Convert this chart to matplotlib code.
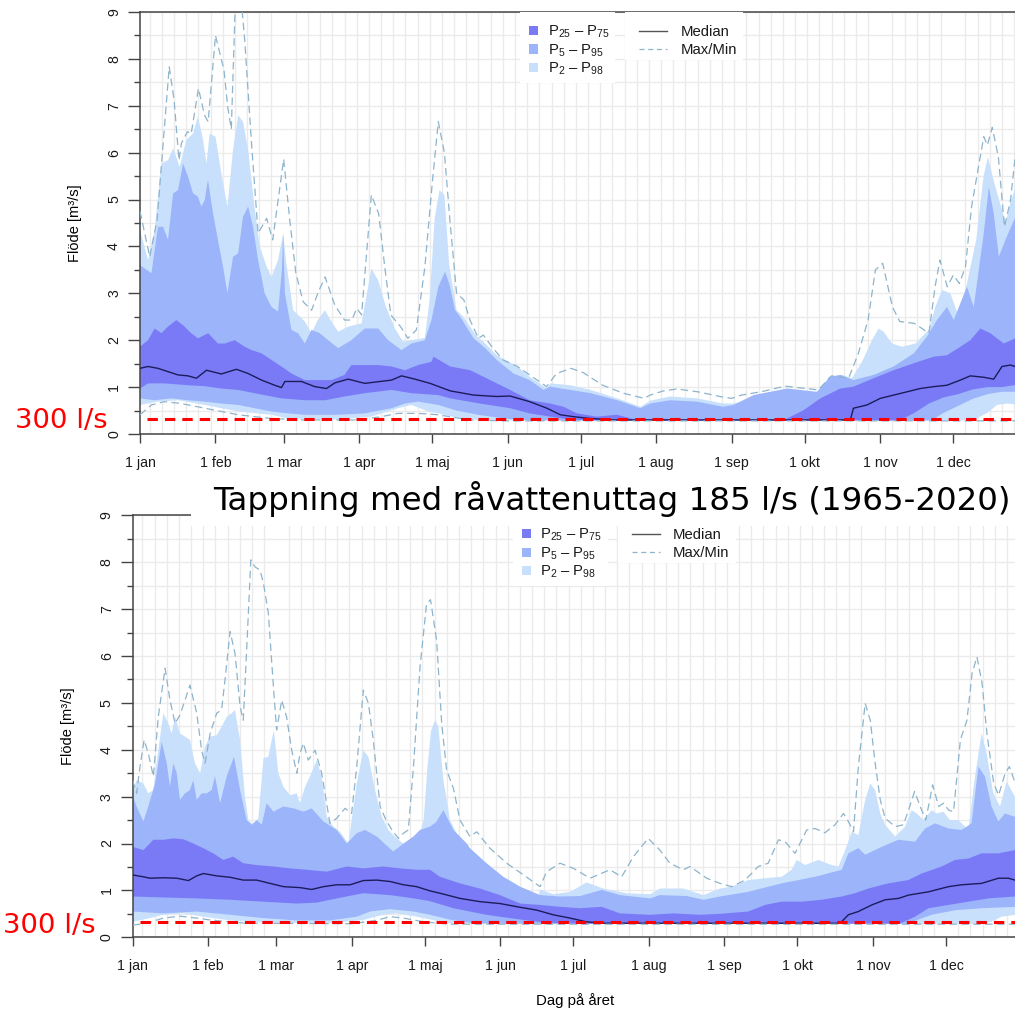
import numpy as np
import matplotlib.pyplot as plt
from matplotlib.patches import Rectangle

plt.rcParams['font.family'] = ['Liberation Sans', 'DejaVu Sans']
plt.rcParams['mathtext.fontset'] = 'custom'
plt.rcParams['mathtext.rm'] = 'Liberation Sans'
plt.rcParams['mathtext.it'] = 'Liberation Sans:italic'

### Text and axis data
month_days = [0, 31, 59, 90, 120, 151, 181, 212, 243, 273, 304, 334]
month_labels = ['1 jan', '1 feb', '1 mar', '1 apr', '1 maj', '1 jun',
                '1 jul', '1 aug', '1 sep', '1 okt', '1 nov', '1 dec']
band_labels = [r'P$\mathregular{_{25}}$ – P$\mathregular{_{75}}$',
               r'P$\mathregular{_{5}}$ – P$\mathregular{_{95}}$',
               r'P$\mathregular{_{2}}$ – P$\mathregular{_{98}}$']
line_labels = ['Median', 'Max/Min']
threshold = 0.33
threshold_start = 3
threshold_label = '300 l/s'
title = 'Tappning med råvattenuttag 185 l/s (1965-2020)'
ylabel = 'Flöde [m³/s]'
xlabel = 'Dag på året'

### Top panel (day, value)
top_max = [(0, 4.75), (4, 3.78), (7, 4.56), (12, 7.83), (14, 7.12), (16, 5.84), (17, 6.2),
           (19.5, 6.45), (21, 6.4), (24, 7.37), (26.5, 6.8), (28, 6.66), (31, 8.5),
           (34.5, 7.76), (36, 6.98), (37.5, 6.5), (39, 8.97), (41, 9.6), (43, 8.4),
           (46, 6.05), (48.5, 4.28), (52, 4.6), (54.5, 4.14), (59, 5.86), (61.5, 4.56),
           (64, 3.43), (67, 2.82), (70.5, 2.64), (73, 3.0), (76, 3.35), (80, 2.75),
           (84, 2.43), (87, 2.43), (89, 2.68), (91, 2.54), (95, 5.1), (98, 4.7),
           (100.5, 3.57), (103, 2.54), (107, 2.29), (110, 2.04), (113.5, 2.22),
           (117, 3.57), (120, 5.34), (122.5, 6.66), (125, 6.0), (127.5, 4.42),
           (130, 3.0), (133, 2.86), (135.5, 2.43), (139, 2.04), (141, 2.11),
           (144.5, 1.86), (149, 1.58), (155, 1.44), (160, 1.26), (167, 1.01),
           (171, 1.29), (177, 1.40), (182, 1.31), (190, 1.04), (198.5, 0.87),
           (207, 0.76), (209.5, 0.83), (215, 0.92), (220.5, 0.96), (229, 0.90),
           (240, 0.78), (243, 0.76), (247, 0.83), (255, 0.90), (265, 1.02),
           (278.5, 0.94), (284, 1.24), (291, 1.19), (295, 1.72), (299, 2.43),
           (302, 3.5), (305, 3.64), (309, 2.71), (312, 2.40), (318, 2.36),
           (324, 2.15), (326.5, 3.14), (328.5, 3.71), (331.5, 3.14), (334, 3.39),
           (336.5, 3.21), (339, 3.57), (341.5, 4.85), (346.5, 6.34), (348, 6.16),
           (350, 6.54), (352.5, 5.91), (355, 4.42), (357.5, 4.99), (360, 6.2), (362, 6.3)]
top_p98 = [(0, 4.35), (3.3, 3.71), (6, 4.35), (8.8, 5.77), (11.5, 5.84), (13.6, 6.09),
           (16.3, 5.7), (19, 6.27), (21.8, 6.41), (23.8, 6.77), (25.9, 6.27), (27.3, 5.77),
           (28.6, 6.41), (31, 6.34), (33.4, 5.56), (35.9, 4.85), (38.2, 6.06), (40.3, 6.8),
           (42.3, 6.66), (44.4, 6.06), (47, 4.85), (49.2, 4.0), (52, 3.57), (54, 3.35),
           (56.7, 3.71), (58.8, 4.28), (60.1, 3.64), (62.9, 2.64), (67.7, 2.40),
           (70.4, 2.15), (73, 2.43), (75.9, 2.64), (78.6, 2.40), (81.4, 2.18),
           (85.5, 2.29), (91, 2.36), (95, 3.53), (97.8, 3.28), (101, 2.71),
           (104.7, 2.25), (108, 1.97), (111.5, 2.0), (117, 2.05), (119, 2.9),
           (121, 4.6), (123, 5.2), (125, 5.1), (127, 3.6), (130, 2.64), (132.8, 2.5),
           (138.3, 2.08), (141, 1.97), (146.5, 1.68), (155, 1.44), (160, 1.22),
           (167.2, 0.97), (168.5, 1.08), (176.7, 1.04), (185, 0.94), (196, 0.76),
           (205.5, 0.58), (209.5, 0.71), (217.7, 0.80), (228.7, 0.76), (239.6, 0.65),
           (243.3, 0.65), (255, 0.76), (265, 0.90), (277.3, 0.87), (280, 0.97),
           (282.8, 1.22), (288.3, 1.26), (292.4, 1.19), (296.5, 1.54), (300.6, 2.0),
           (303.3, 2.25), (305.4, 2.18), (308.8, 1.93), (312.9, 1.86), (318.4, 1.93),
           (323.9, 2.22), (326.6, 2.71), (329.4, 3.07), (332.8, 3.0), (336.2, 2.5),
           (339.6, 3.21), (343.4, 4.14), (346.4, 5.49), (348.2, 5.91), (350.5, 5.42),
           (352.8, 4.99), (355.5, 4.5), (357.4, 4.92), (360, 5.35), (362, 5.4)]
top_p95 = [(0, 3.6), (4.7, 3.43), (7.4, 4.42), (9.5, 4.42), (11.5, 4.14), (13.6, 5.13),
           (15.6, 5.2), (17.7, 5.77), (19.7, 5.49), (21.8, 5.13), (23.8, 5.06),
           (25.2, 4.85), (26.6, 4.99), (27.9, 5.42), (30, 4.70), (32, 4.14), (34.1, 3.57),
           (35.9, 3.0), (38.2, 3.78), (40.3, 3.85), (42.3, 4.63), (44.4, 4.85),
           (46.4, 4.42), (48.5, 3.71), (51.2, 3.0), (54, 2.71), (56.7, 2.61), (58.3, 3.5),
           (58.8, 4.28), (59.5, 3.0), (62.2, 2.22), (64.9, 2.15), (67.7, 1.93),
           (70.4, 2.22), (73.8, 2.15), (77.3, 2.0), (81.4, 1.83), (86.8, 2.0),
           (92.3, 2.25), (97.8, 2.25), (101.9, 2.0), (107.4, 1.79), (111.5, 1.93),
           (117, 2.0), (119.7, 2.43), (122.5, 3.14), (125.3, 3.46), (127, 3.2),
           (129.4, 2.64), (131.5, 2.5), (137, 2.04), (141.8, 1.83), (146.5, 1.58),
           (153.4, 1.29), (160, 1.15), (165.7, 0.94), (168.4, 1.01), (176.7, 0.94),
           (185, 0.87), (196, 0.72), (205.5, 0.55), (209.5, 0.65), (217.7, 0.72),
           (228.7, 0.69), (239.6, 0.58), (243.8, 0.62), (252, 0.83), (265.7, 0.97),
           (278, 0.90), (283.5, 1.22), (287.6, 1.26), (293, 1.15), (301.3, 1.26),
           (309.5, 1.44), (317.8, 1.72), (323.2, 2.08), (327.3, 2.43), (331.4, 2.71),
           (334.2, 2.43), (336.9, 2.79), (339.6, 3.14), (342.4, 2.71), (346.5, 4.28),
           (348.6, 5.27), (350.6, 4.7), (352.7, 3.78), (355.4, 4.14), (359.5, 4.63),
           (362, 4.7)]
top_p75 = [(0, 1.86), (3.3, 2.0), (6, 2.25), (8.8, 2.15), (11.5, 2.29), (14.9, 2.43),
           (17.7, 2.32), (21, 2.15), (23.8, 2.04), (28, 2.15), (32, 1.93), (34.8, 1.93),
           (38.9, 2.0), (43, 1.86), (45.8, 1.79), (49.9, 1.72), (54, 1.58), (58.1, 1.44),
           (62.2, 1.29), (67.7, 1.15), (73, 1.15), (78.6, 1.15), (84, 1.26), (86.8, 1.47),
           (92.3, 1.47), (97.8, 1.47), (103.3, 1.44), (108.8, 1.36), (114.2, 1.47),
           (119.7, 1.54), (120.5, 1.65), (127.4, 1.44), (135.6, 1.36), (143.8, 1.15),
           (152, 0.94), (160, 0.72), (168.5, 0.65), (174, 0.58), (179.4, 0.44),
           (187.6, 0.37), (195.8, 0.41), (204, 0.30), (212.3, 0.33), (221.9, 0.31),
           (239.6, 0.30), (258, 0.30), (265.7, 0.33), (272.6, 0.51), (279.4, 0.76),
           (287.6, 0.97), (293, 1.01), (301.3, 1.19), (309.5, 1.36), (317.8, 1.51),
           (326, 1.65), (331.4, 1.68), (336.9, 1.86), (341, 2.0), (345.1, 2.25),
           (349.2, 2.15), (354.7, 1.93), (359.5, 2.04), (362, 2.05)]
top_median = [(0, 1.40), (3.3, 1.44), (7.4, 1.40), (11.5, 1.33), (15.6, 1.26), (19.7, 1.24),
              (23.2, 1.19), (27.3, 1.36), (33.4, 1.28), (39.6, 1.38), (44.4, 1.29),
              (49.9, 1.15), (55.3, 1.04), (58.1, 0.99), (59.5, 1.12), (66.3, 1.12),
              (71.8, 1.01), (76.6, 0.97), (80, 1.09), (85.5, 1.17), (92.3, 1.08),
              (103.3, 1.15), (107.4, 1.24), (112.9, 1.17), (119.1, 1.08), (127.4, 0.92),
              (137, 0.83), (146.5, 0.80), (152, 0.81), (160, 0.69), (167.1, 0.55),
              (172.6, 0.41), (178, 0.37), (185, 0.33), (195, 0.30), (291.7, 0.30),
              (293, 0.55), (298.6, 0.62), (304, 0.76), (309.5, 0.83), (315, 0.90),
              (320.4, 0.97), (325.9, 1.01), (331.4, 1.04), (336.9, 1.15), (341, 1.24),
              (346.5, 1.21), (350.6, 1.17), (354, 1.44), (357.4, 1.47), (359.5, 1.44),
              (362, 1.44)]
top_p25 = [(0, 0.97), (3.3, 1.08), (10, 1.08), (19.7, 1.04), (26.6, 1.02), (33.4, 0.97),
           (40.3, 0.94), (47.1, 0.87), (54, 0.80), (58.1, 0.76), (67.7, 0.72), (75.9, 0.72),
           (84, 0.80), (92.3, 0.87), (103.3, 0.94), (111.5, 0.87), (122.5, 0.83),
           (127.4, 0.76), (139.6, 0.65), (152, 0.55), (160, 0.44), (168.5, 0.37),
           (176.7, 0.31), (185, 0.29), (312, 0.29), (318, 0.45), (324, 0.65), (330, 0.78),
           (336, 0.85), (342, 0.95), (348, 1.0), (354, 1.0), (360, 1.05), (362, 1.05)]
top_p5 = [(0, 0.76), (6, 0.72), (12.9, 0.76), (19.7, 0.72), (26.6, 0.69), (33.4, 0.65),
          (40.3, 0.62), (47.1, 0.55), (54, 0.48), (60.8, 0.44), (67.7, 0.41), (81.4, 0.41),
          (92.3, 0.44), (103.3, 0.55), (108.8, 0.65), (114.2, 0.69), (122.5, 0.62),
          (130, 0.50), (140, 0.40), (150, 0.33), (160, 0.29), (325, 0.29), (330, 0.45),
          (336, 0.60), (342, 0.75), (348, 0.85), (354, 0.90), (362, 0.90)]
top_p2 = [(0, 0.62), (7.4, 0.69), (15.6, 0.72), (26.6, 0.62), (40.3, 0.48), (54, 0.41),
          (60.8, 0.33), (81.4, 0.31), (95, 0.37), (106, 0.55), (111.5, 0.62),
          (118.4, 0.48), (122.5, 0.44), (130, 0.35), (140, 0.29), (342, 0.29),
          (348, 0.45), (352, 0.62), (356, 0.65), (362, 0.62)]
top_min = [(0, 0.41), (4.7, 0.62), (10, 0.69), (17, 0.65), (26.6, 0.55), (40.3, 0.41),
           (54, 0.33), (67.7, 0.30), (88, 0.30), (98, 0.36), (106, 0.44), (114.2, 0.44),
           (122.5, 0.41), (135, 0.30), (150, 0.28), (362, 0.28)]

### Bottom panel (day, value)
bot_max = [(0, 3.35), (1.6, 3.07), (3, 3.64), (4.7, 4.21), (6.4, 3.92), (8.5, 3.43),
           (10.5, 4.7), (13.3, 5.74), (15.3, 5.06), (17.4, 4.56), (19.4, 4.74),
           (21.5, 5.06), (23.5, 5.38), (26.3, 4.78), (28.3, 3.99), (29.7, 3.71),
           (31.8, 4.35), (34.5, 4.78), (36.5, 4.85), (37.9, 5.49), (40, 6.52), (42, 6.06),
           (44.1, 4.92), (45.4, 4.63), (46.8, 6.13), (48.5, 8.05), (50.2, 7.9),
           (52.3, 7.83), (53.7, 7.55), (55.7, 6.91), (57.8, 5.34), (59.1, 4.42),
           (61.2, 5.06), (63.2, 4.7), (65.3, 3.99), (67.4, 3.5), (68.7, 3.92), (70.1, 4.14),
           (72.1, 3.78), (74.9, 3.99), (77.6, 3.5), (81, 2.43), (83.8, 2.54), (87.2, 2.75),
           (89.9, 2.64), (92, 3.64), (94.7, 5.27), (96.8, 4.99), (98.8, 4.21),
           (101.6, 2.79), (104.3, 2.47), (107, 2.25), (109.1, 2.11), (111.2, 2.22),
           (113.2, 2.29), (115.3, 3.64), (118, 5.77), (120.7, 7.12), (122.3, 7.2),
           (124.8, 6.34), (126.9, 4.56), (128.9, 3.57), (131.7, 3.18), (134.4, 2.50),
           (138.5, 2.15), (141.3, 2.25), (146.7, 1.90), (153.6, 1.58), (160.5, 1.33),
           (167.3, 1.08), (170, 1.40), (175.5, 1.58), (181, 1.47), (187.8, 1.26),
           (196, 1.44), (200.8, 1.29), (205.6, 1.72), (211.7, 2.11), (216.5, 1.86),
           (220.6, 1.58), (226.1, 1.44), (228.9, 1.51), (235.7, 1.26), (241.2, 1.15),
           (246, 1.08), (251.5, 1.22), (256.9, 1.51), (261, 1.58), (265.2, 2.08),
           (267.9, 2.04), (272, 1.79), (276.8, 2.29), (280.2, 2.32), (284.3, 2.23),
           (288.4, 2.40), (291.9, 2.64), (293.9, 2.47), (296, 2.25), (298, 3.64),
           (300.8, 4.99), (302.9, 4.63), (304.9, 3.71), (307, 2.93), (309, 2.54),
           (313.1, 2.36), (316.5, 2.40), (318.6, 2.71), (321.1, 3.11), (323.4, 2.79),
           (325.7, 2.50), (328.5, 3.25), (331, 2.79), (333, 2.86), (335.1, 2.71),
           (337.1, 2.68), (339.9, 4.21), (342.6, 4.63), (344.7, 5.63), (346.7, 5.98),
           (348.8, 5.42), (350.8, 4.35), (353.6, 3.28), (355.6, 3.03), (358.3, 3.50),
           (360, 3.64), (362.5, 3.28)]
bot_p98 = [(0, 3.07), (1.6, 3.35), (4.4, 3.28), (6.4, 3.07), (8.5, 3.14), (10.5, 3.99),
           (12.6, 4.78), (14.6, 4.56), (16, 4.35), (17.4, 4.70), (19.4, 4.35), (21.5, 4.28),
           (23.5, 4.21), (25.6, 3.71), (27.7, 3.50), (29.7, 4.07), (31.8, 4.28),
           (34.5, 4.31), (36.5, 4.49), (38.6, 4.70), (40.7, 4.78), (42, 4.85), (44.1, 4.21),
           (46.1, 3.0), (47.5, 2.50), (49.6, 2.40), (51.6, 2.54), (53.7, 3.82),
           (55.7, 3.85), (57.1, 4.21), (58, 4.42), (59.8, 3.5), (61.9, 3.21), (64.6, 3.03),
           (67.4, 3.07), (68.7, 2.86), (70.8, 3.21), (72.8, 3.43), (75.6, 3.78),
           (77.6, 3.43), (79.7, 2.57), (82.4, 2.36), (85.1, 2.25), (88.6, 2.0), (92, 3.28),
           (94.7, 3.99), (96.8, 3.85), (99.5, 3.14), (102.3, 2.57), (105, 2.29),
           (108.4, 2.11), (111.8, 1.97), (115.3, 2.15), (118, 2.22), (119.5, 2.5),
           (121, 3.6), (122.5, 4.4), (124.2, 4.63), (125.5, 4.5), (127.6, 3.35),
           (130.3, 2.50), (133, 2.22), (138.5, 1.86), (145.3, 1.51), (152.2, 1.26),
           (159.1, 1.04), (166.6, 0.87), (167.3, 1.02), (172.7, 0.92), (179.6, 0.97),
           (186.4, 1.17), (193.3, 1.04), (202.9, 0.94), (212.5, 0.92), (216.6, 1.04),
           (226.2, 1.04), (234.4, 0.90), (241.2, 1.04), (246, 1.08), (252.8, 1.22),
           (259.7, 1.26), (266.5, 1.29), (270.6, 1.44), (272.7, 1.65), (276.1, 1.54),
           (281.6, 1.65), (287.1, 1.54), (289.8, 1.51), (292.6, 1.86), (295.3, 2.25),
           (298, 2.18), (300.8, 2.93), (302.9, 3.28), (304.9, 3.14), (307, 2.64),
           (309, 2.40), (313.1, 2.15), (317.2, 2.36), (319.9, 2.71), (322, 2.64),
           (324.7, 2.50), (328.1, 2.71), (330.2, 2.64), (332.9, 2.68), (335.6, 2.50),
           (339.1, 2.50), (343.2, 2.29), (345.9, 3.43), (348.6, 4.35), (350.7, 3.92),
           (353.4, 3.07), (356.2, 2.79), (358.9, 3.32), (362.3, 3.0)]
bot_p95 = [(0, 3.0), (1.6, 2.79), (4.4, 2.47), (6.4, 2.79), (9.2, 3.28), (11.9, 4.17),
           (14, 3.71), (15.3, 3.21), (16.7, 3.71), (18.1, 3.50), (19.4, 2.93), (21.5, 3.07),
           (23.5, 3.14), (24.9, 3.35), (26.3, 2.93), (28.3, 3.07), (30.4, 3.07),
           (32.4, 3.14), (33.8, 3.43), (35.9, 2.86), (38.6, 3.43), (41.6, 3.85),
           (44.1, 3.14), (46.8, 2.50), (48.9, 2.40), (50.9, 2.50), (53, 2.40), (55, 2.86),
           (57.8, 2.68), (61.9, 2.79), (66, 2.75), (70.1, 2.68), (73.5, 2.75), (78.3, 2.47),
           (83.8, 2.29), (87.9, 2.0), (92, 2.22), (95.4, 2.29), (100.2, 2.15), (107, 1.83),
           (111.2, 2.0), (115.3, 2.15), (118, 2.29), (122.1, 2.36), (124.5, 2.45),
           (127.6, 2.71), (131.7, 2.29), (137.2, 2.0), (138.5, 1.90), (145.3, 1.58),
           (152.2, 1.29), (159.1, 1.08), (167.3, 0.90), (175.5, 0.87), (183.7, 0.88),
           (192.6, 1.01), (200.1, 0.90), (212.5, 0.83), (216.6, 0.90), (227.5, 0.88),
           (234.4, 0.80), (241.2, 0.87), (252.8, 0.97), (266.5, 1.15), (280.2, 1.29),
           (291.2, 1.44), (293.9, 1.79), (298, 1.90), (300.8, 1.76), (307.6, 1.93),
           (314.5, 2.08), (321.3, 2.04), (325.4, 2.32), (329.5, 2.43), (335, 2.32),
           (340.4, 2.29), (344.5, 2.43), (347.3, 3.64), (350, 3.43), (352.7, 2.79),
           (355.5, 2.47), (358.2, 2.64), (362.3, 2.57)]
bot_p75 = [(0, 1.93), (4.4, 1.86), (8.5, 2.08), (12.6, 2.08), (16.7, 2.11), (20.8, 2.09),
           (24.9, 2.0), (29, 1.90), (33.1, 1.79), (37.2, 1.65), (41.3, 1.72), (45.4, 1.58),
           (50.9, 1.54), (57.8, 1.51), (64.6, 1.47), (71.5, 1.44), (79.7, 1.40),
           (87.9, 1.51), (94.7, 1.47), (102.9, 1.51), (109.8, 1.47), (116.6, 1.44),
           (122.1, 1.44), (126.2, 1.29), (134.4, 1.15), (142.6, 1.04), (150.8, 0.90),
           (159.1, 0.72), (167.3, 0.69), (175.5, 0.65), (183.7, 0.62), (192.6, 0.65),
           (200.1, 0.51), (212.5, 0.48), (222, 0.51), (233, 0.48), (241.2, 0.50),
           (252.8, 0.55), (259.7, 0.69), (266.5, 0.76), (274.7, 0.76), (282.9, 0.80),
           (291.2, 0.87), (296.6, 0.94), (302.1, 1.04), (310.3, 1.15), (318.5, 1.22),
           (324, 1.36), (332.2, 1.51), (337.7, 1.65), (343.2, 1.68), (348.6, 1.79),
           (355.5, 1.79), (362.3, 1.86)]
bot_median = [(0, 1.33), (4.4, 1.29), (7.1, 1.26), (12.6, 1.27), (18.1, 1.26), (22.9, 1.21),
              (26.3, 1.31), (29, 1.36), (34.5, 1.31), (40, 1.28), (45.4, 1.22), (50.9, 1.22),
              (56.4, 1.15), (61.9, 1.08), (68.7, 1.06), (73.5, 1.02), (78.3, 1.08),
              (83.8, 1.12), (89.3, 1.12), (94.7, 1.21), (100.2, 1.22), (105.7, 1.19),
              (111.2, 1.12), (116.6, 1.08), (122.1, 0.99), (126.2, 0.94), (134.4, 0.83),
              (142.6, 0.76), (150.8, 0.72), (159.1, 0.64), (165.9, 0.58), (172.7, 0.48),
              (179.6, 0.41), (186.4, 0.33), (193, 0.30), (290.5, 0.30), (293.9, 0.48),
              (298, 0.55), (303.5, 0.69), (309, 0.80), (314.5, 0.83), (318.6, 0.90),
              (326.8, 0.97), (335, 1.08), (340.4, 1.12), (348.6, 1.15), (355.5, 1.26),
              (359.6, 1.26), (362.3, 1.22)]
bot_p25 = [(0, 0.87), (12.6, 0.85), (26.3, 0.83), (40, 0.80), (53.7, 0.76), (67.4, 0.72),
           (75.6, 0.74), (83.8, 0.83), (94.7, 0.94), (105.7, 0.90), (115.3, 0.83),
           (122.1, 0.77), (131.7, 0.62), (145.3, 0.48), (159.1, 0.38), (170, 0.31),
           (180, 0.29), (315, 0.29), (321.3, 0.44), (326.8, 0.62), (335, 0.69),
           (343.2, 0.76), (351.4, 0.83), (362.3, 0.87)]
bot_p5 = [(0, 0.55), (12.6, 0.51), (26.3, 0.55), (40, 0.48), (53.7, 0.41), (67.4, 0.36),
          (81, 0.36), (92, 0.44), (97.5, 0.55), (105.7, 0.60), (115.3, 0.55), (122.1, 0.48),
          (130, 0.38), (140, 0.30), (150, 0.29), (318, 0.29), (328, 0.48), (338, 0.58),
          (348.6, 0.62), (362.3, 0.65)]
bot_p2 = [(0, 0.33), (7.1, 0.41), (12.6, 0.48), (20.8, 0.51), (29, 0.44), (40, 0.36),
          (53.7, 0.31), (81, 0.30), (94.7, 0.37), (102.9, 0.48), (108.4, 0.51),
          (116.6, 0.44), (122.1, 0.38), (130, 0.30), (140, 0.29), (350, 0.29),
          (352.7, 0.33), (356.8, 0.44), (362.3, 0.48)]
bot_min = [(0, 0.26), (5.7, 0.30), (12.6, 0.41), (19.4, 0.45), (26.3, 0.41), (33.1, 0.36),
           (46.8, 0.30), (90, 0.29), (100, 0.36), (105.7, 0.44), (111.2, 0.41),
           (119.4, 0.33), (130, 0.28), (362.3, 0.28)]

c_dark = '#7a7af7'
c_mid = '#9bb4fa'
c_light = '#c8e0fc'
c_median = '#1c1c5a'
c_maxmin = '#8db4cc'
c_axis = '#444444'

W_PX, H_PX = 888.8, 422.0   # axes size in pixels


def draw_panel(ax, series):
    mx, p98, p95, p75, med, p25, p5, p2, mn = [np.array(s).T for s in series]

    def band(hi, lo, col):
        ax.fill(np.r_[hi[0], lo[0][::-1]], np.r_[hi[1], lo[1][::-1]],
                color=col, lw=0, zorder=1)

    band(p98, p2, c_light)
    band(p95, p5, c_mid)
    band(p75, p25, c_dark)
    ax.plot(med[0], med[1], color=c_median, lw=1.0, zorder=3)
    for s in (mx, mn):
        ax.plot(s[0], s[1], color=c_maxmin, lw=0.9, ls=(0, (6, 3.5)), zorder=3)
    ax.axhline(threshold, xmin=threshold_start / 365, color='red', lw=2.2,
               ls=(0, (3.4, 2.3)), zorder=4)

    ax.set_xlim(0, 365)
    ax.set_ylim(0, 9)
    ax.set_xticks(month_days)
    ax.set_xticklabels(month_labels)
    ax.set_xticks(np.arange(4, 365, 5), minor=True)
    ax.set_yticks(range(0, 10))
    ax.set_yticks(np.arange(0.5, 9, 1), minor=True)
    ax.set_axisbelow(True)
    ax.grid(which='minor', axis='x', color='#ebebeb', lw=1.0)
    ax.grid(which='both', axis='y', color='#ebebeb', lw=1.0)
    ax.tick_params(axis='x', which='major', length=6.7, width=1, color=c_axis,
                   labelsize=10.2, pad=8.8, labelcolor='#1a1a1a')
    ax.tick_params(axis='x', which='minor', length=0)
    ax.tick_params(axis='y', which='major', length=8.6, width=1, color=c_axis,
                   labelsize=10.2, pad=5, labelcolor='#1a1a1a')
    ax.tick_params(axis='y', which='minor', length=4.3, width=1, color=c_axis)
    for lab in ax.get_yticklabels():
        lab.set_rotation(90)
        lab.set_va('center')
    for sp in ax.spines.values():
        sp.set_color(c_axis)
        sp.set_linewidth(1.1)
    ax.text(-65 / W_PX, 0.5, ylabel, transform=ax.transAxes, rotation=90,
            ha='center', va='center', fontsize=10.5)
    draw_legend(ax)


def draw_legend(ax):
    tr = ax.transAxes

    def pos(dx, dy):
        return dx / W_PX, 1 - dy / H_PX

    ax.add_patch(Rectangle(pos(380, 71), 95 / W_PX, 71 / H_PX, transform=tr,
                           fc='white', ec='none', zorder=5))
    ax.add_patch(Rectangle(pos(485, 48), 118 / W_PX, 48 / H_PX, transform=tr,
                           fc='white', ec='none', zorder=5))
    for dy, col, lab in zip([18.5, 37, 55.5], [c_dark, c_mid, c_light], band_labels):
        ax.add_patch(Rectangle(pos(389, dy + 4.5), 9 / W_PX, 9 / H_PX, transform=tr,
                               fc=col, ec='none', zorder=6))
        ax.text(*pos(407.5, dy + 5.2), lab, transform=tr, ha='left', va='baseline',
                fontsize=10.7, color='#1a1a1a', zorder=6)
    styles = [dict(color='#555555', lw=1.0, ls='-'),
              dict(color=c_maxmin, lw=0.9, ls=(0, (4, 3)))]
    for dy, st, lab in zip([18.7, 36.5], styles, line_labels):
        (x0, y0), (x1, _) = pos(499, dy), pos(527, dy)
        ax.plot([x0, x1], [y0, y0], transform=tr, zorder=6, clip_on=False, **st)
        ax.text(*pos(540.5, dy + 5.2), lab, transform=tr, ha='left', va='baseline',
                fontsize=10.7, color='#1a1a1a', zorder=6)


fig = plt.figure(figsize=(10.15, 10.10), dpi=100)
ax_top = fig.add_axes([140 / 1015, (1010 - 434) / 1010, W_PX / 1015, H_PX / 1010])
ax_bot = fig.add_axes([132.7 / 1015, (1010 - 937.3) / 1010, W_PX / 1015, H_PX / 1010])

draw_panel(ax_top, [top_max, top_p98, top_p95, top_p75, top_median,
                    top_p25, top_p5, top_p2, top_min])
draw_panel(ax_bot, [bot_max, bot_p98, bot_p95, bot_p75, bot_median,
                    bot_p25, bot_p5, bot_p2, bot_min])

fig.text(575 / 1015, 1 - 1001 / 1010, xlabel, ha='center', va='center', fontsize=10.8)

# white box with the title over the top of the lower panel
fig.add_artist(Rectangle((191 / 1015, 1 - 526 / 1010), 1 - 191 / 1015, 47 / 1010,
                         transform=fig.transFigure, fc='white', ec='none', zorder=5))
fig.text(213 / 1015, 1 - 509.7 / 1010, title, ha='left', va='baseline',
         fontsize=23.4, family='DejaVu Sans', color='black', zorder=6)

fig.text(15 / 1015, 1 - 428.3 / 1010, threshold_label, ha='left', va='baseline',
         fontsize=19.7, family='DejaVu Sans', color='red', zorder=6)
fig.text(3.4 / 1015, 1 - 932.7 / 1010, threshold_label, ha='left', va='baseline',
         fontsize=19.7, family='DejaVu Sans', color='red', zorder=6)

fig.savefig('out.png', dpi=100)
